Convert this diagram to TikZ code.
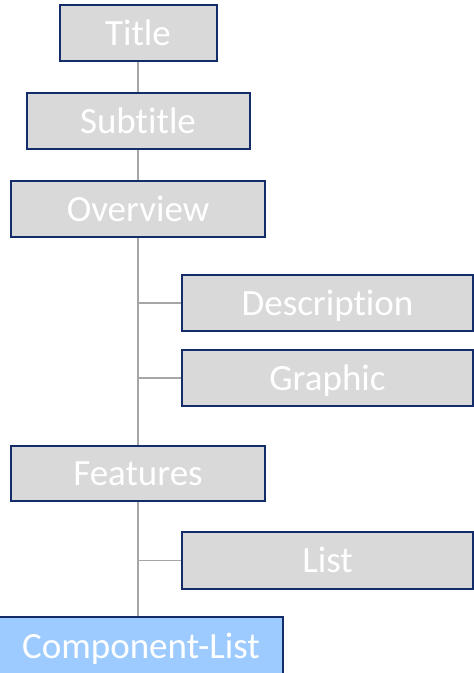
\documentclass[tikz,border=0pt]{standalone}
\usepackage{fontspec}
\setmainfont[Ligatures={NoCommon}]{Carlito}
\definecolor{boxfill}{HTML}{D9D9D9}
\definecolor{boxline}{HTML}{142C6A}
\definecolor{linkc}{HTML}{A6A6A6}
\definecolor{hifill}{HTML}{9DCBFF}
\begin{document}
\begin{tikzpicture}[x=1pt,y=-1pt,
  box/.style={draw=boxline,line width=2pt,fill=boxfill,text=white,inner sep=0pt,
    text height=24.5pt,text depth=0pt,
    font=\fontsize{37}{40}\selectfont},
  link/.style={draw=linkc,line width=1.8pt}]
\useasboundingbox (0,0) rectangle (474,673);
\node[box,minimum width=157pt,minimum height=56pt] (title) at (138,33) {Title};
\node[box,minimum width=223pt,minimum height=56pt] (sub) at (138,121) {Subtitle};
\node[box,minimum width=254pt,minimum height=56pt] (ov) at (138,209) {Overview};
\node[box,minimum width=291pt,minimum height=56pt] (desc) at (327.5,303) {Description};
\node[box,minimum width=291pt,minimum height=56pt] (gra) at (327.5,378) {Graphic};
\node[box,minimum width=254pt,minimum height=55pt] (feat) at (138,473.5) {Features};
\node[box,minimum width=291pt,minimum height=57pt] (lst) at (327.5,560.5) {List};
\node[box,fill=hifill,minimum width=284pt,minimum height=58pt] (comp) at (141,646) {Component-List};
\draw[link] (title.south) -- (sub.north);
\draw[link] (sub.south) -- (ov.north);
\draw[link] (ov.south) -- (feat.north);
\draw[link] (ov.south |- desc.west) -- (desc.west);
\draw[link] (ov.south |- gra.west) -- (gra.west);
\draw[link] (feat.south) -- (feat.south |- comp.north);
\draw[link] (feat.south |- lst.west) -- (lst.west);
\end{tikzpicture}
\end{document}
